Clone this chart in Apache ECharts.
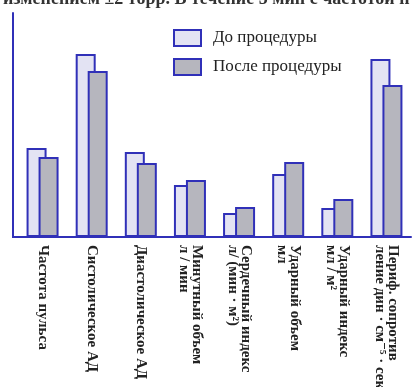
<!DOCTYPE html>
<html>
<head>
<meta charset="utf-8">
<script src="https://cdn.jsdelivr.net/npm/echarts@6/dist/echarts.min.js"></script>
<style>
  html, body { margin: 0; padding: 0; background: #ffffff; }
  #chart { width: 414px; height: 387px; }
</style>
</head>
<body>
<div id="chart"></div>
<script>
// Haemodynamic indices before and after the procedure
const categories = [
  'Частота пульса',
  'Систолическое АД',
  'Диастолическое АД',
  'Минутный объем\nл / мин',
  'Сердечный индекс\nл/ (мин · м²)',
  'Ударный объем\nмл',
  'Ударный индекс\nмл / м²',
  'Периф. сопротив\nление дин · см⁻⁵ · сек'
];
const seriesNames = ['До процедуры', 'После процедуры'];
const beforeValues = [89, 183, 85, 52, 24, 63, 29, 178];
const afterValues  = [80, 166, 74, 57, 30, 75, 38, 152];
const headerText = 'изменением ±2 торр. В течение 5 мин с частотой п';

// sideways nudge of each rotated caption (negative = to the left)
const labelShift = [-3, -4, -1, -9, -17, -10, -16, 5];

const lineColor = '#3030b8';
const serif = '"Liberation Serif", "DejaVu Serif", serif';

// Rotated labels are centred across their text block; unequal top/bottom
// padding slides the block sideways after the -90 degree turn.
const axisData = categories.map((name, i) => {
  const s = labelShift[i];
  return {
    value: name,
    textStyle: { padding: s < 0 ? [-2 * s, 0, 0, 0] : [0, 0, 2 * s, 0] }
  };
});

const chart = echarts.init(document.getElementById('chart'), null, { renderer: 'canvas' });
chart.setOption({
  animation: false,
  backgroundColor: '#ffffff',
  title: {
    text: headerText,
    left: 3,
    top: -10,
    padding: 0,
    textStyle: { fontFamily: serif, fontSize: 18, fontWeight: 'bold', color: '#333333' }
  },
  legend: {
    orient: 'vertical',
    left: 168,
    top: 24,
    icon: 'rect',
    itemWidth: 27,
    itemHeight: 16,
    itemGap: 11,
    textStyle: { fontFamily: serif, fontSize: 17, color: '#222222', padding: [0, 0, 0, 7] },
    data: seriesNames
  },
  grid: { left: 18, right: 3, top: 13, bottom: 150, containLabel: false, outerBoundsMode: 'none' },
  xAxis: {
    type: 'category',
    data: axisData,
    axisLine: { show: true, lineStyle: { color: lineColor, width: 2 } },
    axisTick: { show: false },
    axisLabel: {
      rotate: -90,
      interval: 0,
      margin: 8,
      fontFamily: serif,
      fontSize: 15,
      fontWeight: 'bold',
      lineHeight: 13,
      color: '#222222'
    }
  },
  yAxis: {
    type: 'value',
    min: 0,
    max: 224,
    offset: 5,
    axisLine: { show: true, lineStyle: { color: lineColor, width: 2 } },
    axisTick: { show: false },
    axisLabel: { show: false },
    splitLine: { show: false }
  },
  graphic: [{
    type: 'line',
    shape: { x1: 12, y1: 237, x2: 19, y2: 237 },
    style: { stroke: lineColor, lineWidth: 2 },
    z: 10
  }],
  series: [
    {
      name: seriesNames[0],
      type: 'bar',
      data: beforeValues,
      barWidth: 20,
      barGap: '-40%',
      itemStyle: { color: '#e3e3f3', borderColor: lineColor, borderWidth: 2 }
    },
    {
      name: seriesNames[1],
      type: 'bar',
      data: afterValues,
      barWidth: 20,
      itemStyle: { color: '#b6b6be', borderColor: lineColor, borderWidth: 2 }
    }
  ]
});
</script>
</body>
</html>
